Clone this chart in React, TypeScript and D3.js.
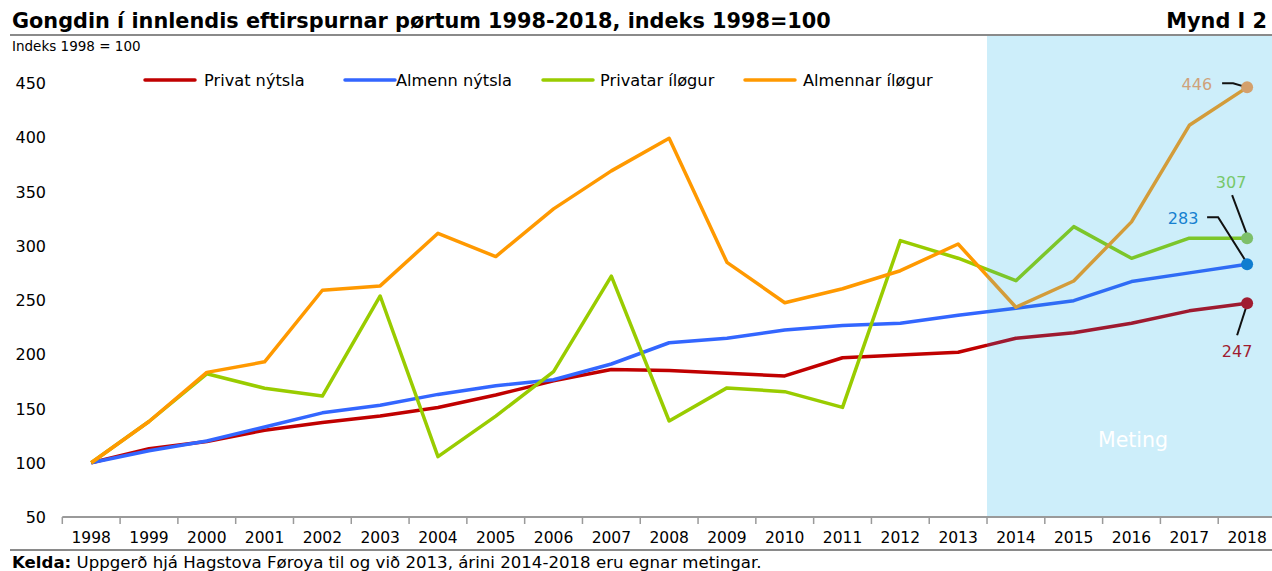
import React from "react";
import * as d3 from "d3";

const years = [1998,1999,2000,2001,2002,2003,2004,2005,2006,2007,2008,2009,2010,2011,2012,2013,2014,2015,2016,2017,2018];
const privatNytsla = [100,113,119.5,130,137,143,151,162.5,175.5,186,185,182.5,180,196.8,199.3,201.8,214.7,219.9,228.5,240,247];
const almennNytsla = [100,111,120,133,146,153,163,171,176.5,191,210.6,214.7,222.4,226.4,228.5,236,242.3,249.4,267,275,283];
const privatarIlogur = [100,138,182,168.6,161.5,253.7,105.6,143,184,272,138.5,169,165.5,151,304.7,288.5,267.8,317.6,288.4,307,307];
const almennarIlogur = [100,138,183.3,193,259,263,311.5,290,334,369,399,284.7,247.5,260.4,277,301.6,243.3,267.5,322,411,446];
const yTicks = [50,100,150,200,250,300,350,400,450];

const seriesNames = ["Privat nýtsla","Almenn nýtsla","Privatar íløgur","Almennar íløgur"];
const seriesValues = [privatNytsla, almennNytsla, privatarIlogur, almennarIlogur];
const colors = ["#c00000","#3366ff","#99cc00","#ff9900"];
const shadeColors = ["#9e1a30","#2f6cf5","#7cc62a","#d39c3a"];
const endMarkerColors = ["#a01c30","#0f7dd0","#7dbf6a","#d4a06c"];
const endLabelColors = ["#a01c30","#1580d0","#77c86a","#cfa27a"];

const W = 1272, H = 571;
const FONT = "'DejaVu Sans', Verdana, sans-serif";

export default function App() {
  const x = d3.scaleBand<number>().domain(years).range([62.3, 1276]).paddingInner(0).paddingOuter(0);
  const y = d3.scaleLinear().domain([50, 450]).range([517, 83]);
  const cx = (yr: number) => (x(yr) as number) + x.bandwidth() / 2;
  const line = d3.line<number>().x((_, i) => cx(years[i])).y((v) => y(v));
  const shadeX = x(2014) as number;
  const last = years[years.length - 1];
  const ex = cx(last);

  const endLabels = [
    { tx: ex - 10, ty: y(247) + 54, anchor: "middle", path: (py: number) => `M${ex - 10},${py + 32} L${ex},${py + 1}` },
    { tx: ex - 64, ty: y(283) - 40, anchor: "middle", path: (py: number) => `M${ex - 40},${py - 47} L${ex - 29},${py - 47} L${ex},${py - 1}` },
    { tx: ex - 16, ty: y(307) - 50, anchor: "middle", path: (py: number) => `M${ex - 15},${py - 43} L${ex},${py - 3}` },
    { tx: ex - 35, ty: y(446) + 3, anchor: "end", path: (py: number) => `M${ex - 25},${py - 4} L${ex - 14},${py - 4} L${ex},${py}` },
  ];

  const legendLineX = [145, 345, 543, 745];
  const legendTextX = [204, 396, 600, 803];

  return (
    <svg width={W} height={H} style={{ position: "absolute", left: 0, top: 0, background: "#fff" }} fontFamily={FONT}>
      <defs>
        <clipPath id="leftClip"><rect x={0} y={0} width={shadeX} height={H} /></clipPath>
        <clipPath id="rightClip"><rect x={shadeX} y={0} width={W - shadeX} height={H} /></clipPath>
      </defs>
      <text x={12} y={28} fontSize={20.8} fontWeight="bold" fill="#000">Gongdin í innlendis eftirspurnar pørtum 1998-2018, indeks 1998=100</text>
      <text x={1267} y={28} fontSize={20.8} fontWeight="bold" fill="#000" textAnchor="end">Mynd I 2</text>
      <rect x={shadeX} y={36} width={W - shadeX} height={517 - 36} fill="#cdeefa" />
      <line x1={10} x2={W} y1={35} y2={35} stroke="#8a8a8a" strokeWidth={2} />
      <text x={12} y={51} fontSize={13.5} fill="#000">Indeks 1998 = 100</text>

      {yTicks.map((t) => (
        <text key={t} x={46} y={y(t) + 6} fontSize={16} textAnchor="end" fill="#000">{t}</text>
      ))}

      <line x1={62.3} x2={W} y1={517} y2={517} stroke="#9a9a9a" strokeWidth={2} />
      {years.map((yr) => (
        <line key={"t" + yr} x1={x(yr) as number} x2={x(yr) as number} y1={517} y2={524} stroke="#9a9a9a" strokeWidth={1.5} />
      ))}
      {years.map((yr) => (
        <text key={"l" + yr} x={cx(yr)} y={543} fontSize={15.5} textAnchor="middle" fill="#000">{yr}</text>
      ))}

      <text x={1133} y={447} fontSize={20.5} fill="#ffffff" textAnchor="middle">Meting</text>

      {seriesValues.map((vals, i) => (
        <g key={"s" + i}>
          <path d={line(vals) as string} fill="none" stroke={colors[i]} strokeWidth={3.5} strokeLinejoin="round" clipPath="url(#leftClip)" />
          <path d={line(vals) as string} fill="none" stroke={shadeColors[i]} strokeWidth={3.5} strokeLinejoin="round" clipPath="url(#rightClip)" />
        </g>
      ))}

      {seriesValues.map((vals, i) => {
        const v = vals[vals.length - 1];
        const py = y(v);
        const lb = endLabels[i];
        return (
          <g key={"e" + i}>
            <path d={lb.path(py)} fill="none" stroke="#111" strokeWidth={2} />
            <circle cx={ex} cy={py} r={6} fill={endMarkerColors[i]} />
            <text x={lb.tx} y={lb.ty} fontSize={16} fill={endLabelColors[i]} textAnchor={lb.anchor as any}>{Math.round(v)}</text>
          </g>
        );
      })}

      {seriesNames.map((n, i) => (
        <g key={"lg" + i}>
          <line x1={legendLineX[i]} x2={legendLineX[i] + 50} y1={80} y2={80} stroke={colors[i]} strokeWidth={3.5} strokeLinecap="round" />
          <text x={legendTextX[i]} y={86} fontSize={16.2} fill="#000">{n}</text>
        </g>
      ))}

      <line x1={10} x2={W} y1={550} y2={550} stroke="#8a8a8a" strokeWidth={2} />
      <text x={12} y={568} fontSize={16.6} fill="#000"><tspan fontWeight="bold">Kelda:</tspan> Uppgerð hjá Hagstova Føroya til og við 2013, árini 2014-2018 eru egnar metingar.</text>
    </svg>
  );
}
